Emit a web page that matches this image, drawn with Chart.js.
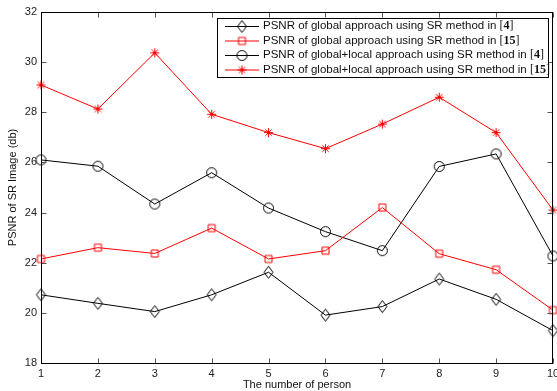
<!DOCTYPE html>
<html><head><meta charset="utf-8">
<script src="https://cdn.jsdelivr.net/npm/chart.js@4"></script>
<style>html,body{margin:0;padding:0;background:#fff}#wrap{position:relative;width:557px;height:391px}</style>
</head><body><div id="wrap"><canvas id="c" width="557" height="391"></canvas></div>
<script>
const categories = ['1','2','3','4','5','6','7','8','9','10'];
const globalSR4 = [20.72, 20.38, 20.05, 20.72, 21.62, 19.91, 20.25, 21.35, 20.54, 19.29];
const globalSR15 = [22.15, 22.60, 22.37, 23.38, 22.15, 22.48, 24.20, 22.36, 21.72, 20.11];
const globalLocalSR4 = [26.10, 25.85, 24.34, 25.59, 24.18, 23.24, 22.48, 25.84, 26.34, 22.27];
const globalLocalSR15 = [29.09, 28.13, 30.37, 27.92, 27.19, 26.55, 27.53, 28.60, 27.19, 24.10];
const yTicks = [18, 20, 22, 24, 26, 28, 30, 32];
const seriesNames = [
  'PSNR of global approach using SR method in ',
  'PSNR of global approach using SR method in ',
  'PSNR of global+local approach using SR method in ',
  'PSNR of global+local approach using SR method in '
];
const seriesRefs = ['4', '15', '4', '15'];
const xTitle = 'The number of person';
const yTitle = 'PSNR of SR Image (db)';

const RED = '#ff0000', BLACK = '#000000';
const SANS = '"Liberation Sans", Arial, Helvetica, sans-serif';
const SERIF = '"Liberation Serif", "Times New Roman", serif';

function makeMarker(type, color) {
  const c = document.createElement('canvas');
  c.width = 15; c.height = 15;
  const g = c.getContext('2d');
  g.strokeStyle = color; g.lineWidth = 1;
  g.beginPath();
  if (type === 'diamond') {
    g.moveTo(7.5, 1.5); g.lineTo(12, 7.5); g.lineTo(7.5, 13.5); g.lineTo(3, 7.5); g.closePath();
  } else if (type === 'square') {
    g.rect(4, 4, 7, 7);
  } else if (type === 'circle') {
    g.arc(7.5, 7.5, 5, 0, Math.PI * 2);
  } else if (type === 'star') {
    const r = 4.5;
    for (let k = 0; k < 4; k++) {
      const a = k * Math.PI / 4;
      g.moveTo(7.5 - r * Math.cos(a), 7.5 - r * Math.sin(a));
      g.lineTo(7.5 + r * Math.cos(a), 7.5 + r * Math.sin(a));
    }
  }
  g.stroke();
  return c;
}
const markers = [
  makeMarker('diamond', BLACK),
  makeMarker('square', RED),
  makeMarker('circle', BLACK),
  makeMarker('star', RED)
];
const seriesData = [globalSR4, globalSR15, globalLocalSR4, globalLocalSR15];
const seriesColors = [BLACK, RED, BLACK, RED];

const datasets = seriesData.map((d, i) => ({
  label: seriesNames[i] + '[' + seriesRefs[i] + ']',
  data: d,
  borderColor: seriesColors[i],
  backgroundColor: 'transparent',
  borderWidth: 1,
  pointStyle: markers[i],
  pointRadius: 6,
  tension: 0,
  fill: false,
  clip: false
}));

const framePlugin = {
  id: 'frame',
  afterDraw(chart) {
    const ctx = chart.ctx, ca = chart.chartArea;
    const xs = chart.scales.x, ys = chart.scales.y;
    const L = Math.round(ca.left) + 0.5, R = Math.round(ca.right) - 0.5;
    const T = Math.round(ca.top) + 0.5, B = Math.round(ca.bottom) + 0.5;
    ctx.save();
    ctx.strokeStyle = '#555'; ctx.lineWidth = 1;
    ctx.beginPath();
    yTicks.forEach(v => {
      const py = Math.round(ys.getPixelForValue(v)) + 0.5;
      ctx.moveTo(L, py); ctx.lineTo(L + 5, py);
      ctx.moveTo(R, py); ctx.lineTo(R - 5, py);
    });
    categories.forEach((c, i) => {
      const px = Math.round(xs.getPixelForValue(i)) + 0.5;
      ctx.moveTo(px, B); ctx.lineTo(px, B - 5);
      ctx.moveTo(px, T); ctx.lineTo(px, T + 5);
    });
    ctx.stroke();
    ctx.strokeStyle = '#000';
    ctx.strokeRect(L, T, R - L, B - T);
    const bx = 217.5, by = 18.5, bw = 331, bh = 59;
    ctx.fillStyle = '#fff';
    ctx.fillRect(bx, by, bw, bh);
    ctx.strokeStyle = '#000';
    ctx.strokeRect(bx, by, bw, bh);
    const rows = [26, 40.5, 55, 69.5];
    rows.forEach((ry, i) => {
      ctx.strokeStyle = seriesColors[i];
      ctx.beginPath();
      ctx.moveTo(225, ry + 0.5); ctx.lineTo(259, ry + 0.5);
      ctx.stroke();
      const m = markers[i];
      ctx.drawImage(m, 242 - m.width / 2, ry + 0.5 - m.height / 2);
      ctx.fillStyle = '#111';
      ctx.textBaseline = 'middle';
      ctx.textAlign = 'left';
      ctx.font = '11.5px ' + SANS;
      let tx = 263;
      ctx.fillText(seriesNames[i], tx, ry);
      tx += ctx.measureText(seriesNames[i]).width;
      ctx.font = '12px ' + SERIF;
      ctx.fillText('[', tx, ry); tx += ctx.measureText('[').width;
      ctx.font = 'bold 12px ' + SERIF;
      ctx.fillText(seriesRefs[i], tx, ry); tx += ctx.measureText(seriesRefs[i]).width;
      ctx.font = '12px ' + SERIF;
      ctx.fillText(']', tx, ry);
    });
    ctx.restore();
  }
};

new Chart(document.getElementById('c'), {
  type: 'line',
  data: { labels: categories, datasets },
  options: {
    responsive: false,
    animation: false,
    devicePixelRatio: 1,
    layout: { autoPadding: false, padding: { left: 0, right: 4, top: 12, bottom: 0 } },
    plugins: { legend: { display: false }, tooltip: { enabled: false } },
    scales: {
      x: {
        type: 'category',
        offset: false,
        grid: { display: false, drawTicks: false },
        border: { display: false },
        ticks: { color: '#222', font: { family: SANS, size: 11 }, padding: 4, maxRotation: 0, autoSkip: false },
        title: { display: true, text: xTitle, color: '#111', font: { family: SANS, size: 11 }, padding: { top: 0, bottom: -1 } },
        afterFit(s) { s.height = 28; s.paddingRight = 0; s.paddingLeft = 0; }
      },
      y: {
        min: 18, max: 32,
        afterBuildTicks(s) { s.ticks = yTicks.map(v => ({ value: v })); },
        grid: { display: false, drawTicks: false },
        border: { display: false },
        ticks: { color: '#222', font: { family: SANS, size: 11 }, padding: 4 },
        title: { display: true, text: yTitle, color: '#111', font: { family: SANS, size: 11 }, padding: { top: 6, bottom: 0 } },
        afterFit(s) { s.width = 41; s.paddingTop = 0; s.paddingBottom = 0; }
      }
    }
  },
  plugins: [framePlugin]
});
</script>
</body></html>
